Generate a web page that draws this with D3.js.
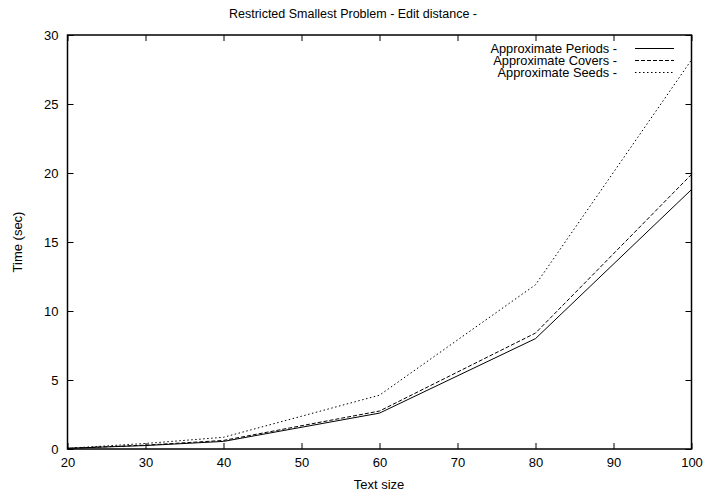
<!DOCTYPE html>
<html>
<head>
<meta charset="utf-8">
<script src="https://cdn.jsdelivr.net/npm/d3@7"></script>
<style>
  body { margin: 0; background: #fff; }
  svg { font-family: "Liberation Sans", Arial, sans-serif; }
</style>
</head>
<body>
<svg width="706" height="497"></svg>
<script>
// text sizes measured
var textSize = [20, 30, 40, 60, 80, 100];
var periods = [0.05, 0.25, 0.55, 2.6, 8.0, 18.8];
var covers = [0.05, 0.28, 0.62, 2.75, 8.4, 19.9];
var seeds = [0.05, 0.4, 0.85, 3.9, 11.9, 28.2];

var xTicks = [20, 30, 40, 50, 60, 70, 80, 90, 100];
var yTicks = [0, 5, 10, 15, 20, 25, 30];

var series = [
  { name: "Approximate Periods -", values: periods, dash: null },
  { name: "Approximate Covers -", values: covers, dash: "4,2" },
  { name: "Approximate Seeds -", values: seeds, dash: "1.5,2.5" }
];

var svg = d3.select("svg"),
  plotLeft = 67.5, plotRight = 691.5, plotTop = 35, plotBottom = 449;

var x = d3.scaleLinear().domain([20, 100]).range([plotLeft, plotRight]),
  y = d3.scaleLinear().domain([0, 30]).range([plotBottom, plotTop]);

var tick = 6;

// axes with inward ticks, mirrored on top/right
svg.append("g")
  .attr("transform", "translate(0," + plotBottom + ")")
  .call(d3.axisBottom(x).tickValues(xTicks).tickSize(-tick).tickPadding(9))
  .call(function (g) { g.select(".domain").remove(); });

svg.append("g")
  .attr("transform", "translate(0," + plotTop + ")")
  .call(d3.axisTop(x).tickValues(xTicks).tickSize(-tick).tickFormat(""))
  .call(function (g) { g.select(".domain").remove(); });

svg.append("g")
  .attr("transform", "translate(" + plotLeft + ",0)")
  .call(d3.axisLeft(y).tickValues(yTicks).tickSize(-tick).tickPadding(9))
  .call(function (g) { g.select(".domain").remove(); });

svg.append("g")
  .attr("transform", "translate(" + plotRight + ",0)")
  .call(d3.axisRight(y).tickValues(yTicks).tickSize(-tick).tickFormat(""))
  .call(function (g) { g.select(".domain").remove(); });

svg.selectAll(".tick text")
  .attr("font-size", 13)
  .attr("font-family", "Liberation Sans, Arial, sans-serif")
  .attr("fill", "#000");
svg.selectAll(".tick line").attr("stroke", "#000");

// frame
svg.append("rect")
  .attr("x", plotLeft).attr("y", plotTop)
  .attr("width", plotRight - plotLeft).attr("height", plotBottom - plotTop)
  .attr("fill", "none").attr("stroke", "#000").attr("stroke-width", 1.5);

var line = d3.line()
  .x(function (d, i) { return x(textSize[i]); })
  .y(function (d) { return y(d); });

svg.selectAll(".series")
  .data(series)
  .enter()
  .append("path")
  .attr("class", "series")
  .attr("d", function (s) { return line(s.values); })
  .attr("fill", "none")
  .attr("stroke", "#000")
  .attr("stroke-width", 1)
  .attr("stroke-dasharray", function (s) { return s.dash; });

// legend
var legend = svg.selectAll(".legend")
  .data(series)
  .enter()
  .append("g")
  .attr("class", "legend")
  .attr("transform", function (s, i) { return "translate(0," + (48.5 + i * 12) + ")"; });

legend.append("text")
  .attr("x", 617)
  .attr("dy", "0.35em")
  .attr("text-anchor", "end")
  .attr("font-size", 12.8)
  .text(function (s) { return s.name; });

legend.append("line")
  .attr("x1", 635).attr("x2", 674)
  .attr("stroke", "#000")
  .attr("stroke-dasharray", function (s) { return s.dash; });

// titles
svg.append("text")
  .attr("x", 353).attr("y", 18)
  .attr("text-anchor", "middle")
  .attr("font-size", 12.5)
  .text("Restricted Smallest Problem - Edit distance -");

svg.append("text")
  .attr("x", 379).attr("y", 489)
  .attr("text-anchor", "middle")
  .attr("font-size", 13)
  .text("Text size");

svg.append("text")
  .attr("transform", "translate(22,242) rotate(-90)")
  .attr("text-anchor", "middle")
  .attr("font-size", 13)
  .text("Time (sec)");
</script>
</body>
</html>
